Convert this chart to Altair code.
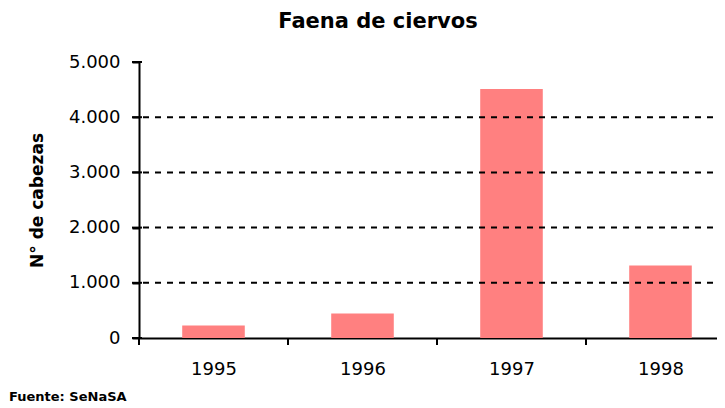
import altair as alt
import pandas as pd

years = [1995, 1996, 1997, 1998]
heads = [225, 445, 4510, 1315]
boundaries = [1994.5, 1995.5, 1996.5, 1997.5]
y_ticks = [0, 1000, 2000, 3000, 4000, 5000]
grid_values = [1000, 2000, 3000, 4000]
title_text = ["Faena de ciervos"]
source_text = ["Fuente: SeNaSA"]
y_title = "N° de cabezas"

W, H = 578, 276
half_bar = 0.21

bars_df = pd.DataFrame({"year": years, "heads": heads})
bounds_df = pd.DataFrame({"b": boundaries})
grid_df = pd.DataFrame({"g": grid_values})
ytick_df = pd.DataFrame({"v": y_ticks})
title_df = pd.DataFrame({"t": title_text})
source_df = pd.DataFrame({"t": source_text})

xscale = alt.Scale(domain=[1994.5, 1994.5 + W / 149.0], nice=False, zero=False)
yscale = alt.Scale(domain=[0, 5000], nice=False)

x_axis = alt.Axis(
    values=years, format="d", title=None, grid=False, ticks=False,
    labelFontSize=18, labelFont="DejaVu Sans", labelColor="black",
    labelPadding=22, domainColor="black", domainWidth=2, labelFlush=False)
y_axis = alt.Axis(
    values=y_ticks, title=y_title, grid=False, ticks=True,
    labelExpr="replace(format(datum.value, ','), ',', '.')",
    labelFontSize=18, labelFont="DejaVu Sans", labelColor="black",
    labelPadding=12, tickSize=7, tickColor="black", tickWidth=2,
    domainColor="black", domainWidth=2,
    titleFont="DejaVu Sans", titleFontSize=17, titleFontWeight="bold",
    titleColor="black", titleAngle=270, titleX=-102, titleY=H / 2,
    titleAlign="center", titleBaseline="middle")

bars = alt.Chart(bars_df).transform_calculate(
    x0=f"datum.year - {half_bar}", x1=f"datum.year + {half_bar}", base="0"
).mark_bar(color="#FF8080").encode(
    x=alt.X("x0:Q", scale=xscale, axis=x_axis),
    x2="x1:Q",
    y=alt.Y("heads:Q", scale=yscale, axis=y_axis),
    y2="base:Q",
)

grid = alt.Chart(grid_df).mark_rule(
    color="black", strokeWidth=2, strokeDash=[6, 6]
).encode(
    y=alt.Y("g:Q", scale=yscale, axis=y_axis),
    x=alt.value(4), x2=alt.value(W),
)

yticks = alt.Chart(ytick_df).mark_rule(color="black", strokeWidth=2).encode(
    y=alt.Y("v:Q", scale=yscale, axis=y_axis),
    x=alt.value(-7), x2=alt.value(3),
)

xticks = alt.Chart(bounds_df).mark_rule(color="black", strokeWidth=2).encode(
    x=alt.X("b:Q", scale=xscale, axis=x_axis),
    y=alt.value(H),
    y2=alt.value(H + 7),
)

title = alt.Chart(title_df).mark_text(
    font="DejaVu Sans", fontSize=21, fontWeight="bold", color="black",
    align="center", baseline="middle"
).encode(x=alt.value(239), y=alt.value(-40), text="t:N")

source = alt.Chart(source_df).mark_text(
    font="DejaVu Sans", fontSize=13, fontWeight="bold", color="black",
    align="left", baseline="middle"
).encode(x=alt.value(-130), y=alt.value(335), text="t:N")

chart = alt.layer(bars, grid, yticks, xticks, title, source).properties(
    width=W, height=H,
    background="white",
    autosize=alt.AutoSizeParams(type="none"),
    padding={"left": 131, "top": 54, "right": 0, "bottom": 66},
).configure_view(stroke="transparent", strokeWidth=0)

chart.save("out.html", embed_options={"renderer": "svg", "actions": False})
